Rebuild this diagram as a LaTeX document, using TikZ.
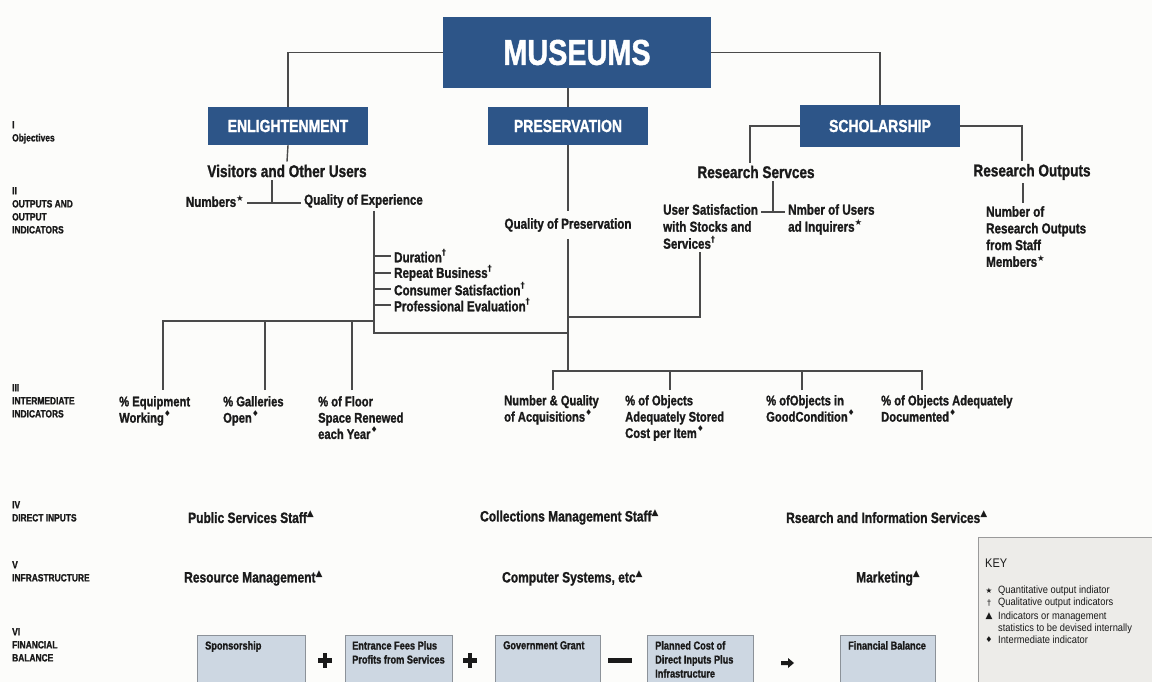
\documentclass[tikz,border=0pt]{standalone}
\usepackage{fontspec}
\setmainfont{Liberation Sans}
\newfontfamily\cb{Liberation Sans}[UprightFont=* Bold, BoldFont=* Bold, FakeStretch=0.8, FakeBold=1.2]
\newfontfamily\kf{Liberation Sans}[FakeStretch=0.88]
\newfontfamily\symf{DejaVu Sans}
\usetikzlibrary{arrows.meta}
\definecolor{boxblue}{HTML}{2D5588}
\definecolor{linegray}{HTML}{4A4A4A}
\definecolor{inkdark}{HTML}{1A1A1A}
\definecolor{finfill}{HTML}{CDD7E2}
\definecolor{finedge}{HTML}{8C9299}
\definecolor{keyfill}{HTML}{EDECE9}
\definecolor{keyedge}{HTML}{9A9A9A}
\definecolor{paper}{HTML}{FCFCFA}
% indicator marks
\newcommand\mkq{\raisebox{.40em}{\fontsize{8.5}{8.5}\selectfont\symf ★}}
\newcommand\mkd{\raisebox{.45em}{\fontsize{8.5}{8.5}\selectfont\symf\bfseries †}}
\newcommand\mki{\raisebox{.45em}{\fontsize{8}{8}\selectfont\symf ♦}}
\newcommand\mkm{\raisebox{.42em}{\fontsize{9}{9}\selectfont\symf ▲}}
\begin{document}
\begin{tikzpicture}[x=1pt,y=-1pt,
  conn/.style={draw=linegray, line width=1.4pt},
  objbox/.style={fill=boxblue, text=white, inner sep=0,
    font=\cb\fontsize{17.5}{20}\selectfont,
    minimum width=160pt, minimum height=38pt},
  lab/.style={anchor=north west, align=left, inner sep=0, text=inkdark,
    font=\cb\fontsize{10.5}{13}\selectfont},
  hd/.style={inner sep=3pt, text=inkdark, font=\cb\fontsize{17}{20}\selectfont},
  outtxt/.style={inner sep=3pt, text=inkdark, align=left,
    font=\cb\fontsize{14.5}{17}\selectfont},
  ind/.style={anchor=north west, align=left, inner sep=0, text=inkdark,
    font=\cb\fontsize{14}{16.3}\selectfont},
  rowtxt/.style={anchor=west, inner sep=0, text=inkdark,
    font=\cb\fontsize{15}{18}\selectfont},
  finbox/.style={draw=finedge, fill=finfill, line width=0.8pt},
  fintxt/.style={anchor=north west, align=left, inner sep=0, text=inkdark,
    font=\cb\fontsize{11.5}{14}\selectfont},
  keytxt/.style={anchor=west, inner sep=0, text=inkdark,
    font=\kf\fontsize{10.6}{12.4}\selectfont, align=left},
  keysym/.style={anchor=center, inner sep=0, text=inkdark},
  sign/.style={fill=inkdark}
]
\useasboundingbox (0,0) rectangle (1152,682);
\fill[paper] (0,0) rectangle (1152,682);

% ---- objectives ----
\node[objbox, minimum width=268pt, minimum height=71pt,
  font=\cb\fontsize{36}{40}\selectfont] (museums) at (577,52.5) {MUSEUMS};
\node[objbox] (enl) at (288,126) {ENLIGHTENMENT};
\node[objbox] (pres) at (568,126) {PRESERVATION};
\node[objbox, minimum height=42pt] (sch) at (880,126) {SCHOLARSHIP};

\draw[conn] (museums.west) -| (enl.north);
\draw[conn] (museums.south -| pres.north) -- (pres.north);
\draw[conn] (museums.east) -| (sch.north);

% ---- row labels ----
\node[lab] (l1) at (12,121) {I\\Objectives};
\node[lab] (l2) at (12,187) {II\\OUTPUTS AND\\OUTPUT\\INDICATORS};
\node[lab] (l3) at (12,384) {III\\INTERMEDIATE\\INDICATORS};
\node[lab] (l4) at (12,501) {IV\\DIRECT INPUTS};
\node[lab] (l5) at (12,561) {V\\INFRASTRUCTURE};
\node[lab] (l6) at (12,628) {VI\\FINANCIAL\\BALANCE};

% ---- enlightenment branch ----
\node[hd] (visitors) at (287,171) {Visitors and Other Users};
\node[outtxt, anchor=east] (numbers) at (247,201) {Numbers\mkq};
\node[outtxt, anchor=west] (qoe) at (301,201) {Quality of Experience};
\coordinate (tvis) at (272,203);
\draw[conn] (enl.south) -- (visitors.north);
\draw[conn] (visitors.south -| tvis) -- (tvis);
\draw[conn] (numbers.east |- tvis) -- (qoe.west |- tvis);

\node[outtxt, anchor=west] (dur1) at (391,256) {Duration\mkd};
\node[outtxt, anchor=west] (dur2) at (391,273) {Repeat Business\mkd};
\node[outtxt, anchor=west] (dur3) at (391,289) {Consumer Satisfaction\mkd};
\node[outtxt, anchor=west] (dur4) at (391,305) {Professional Evaluation\mkd};

\coordinate (qbr) at (374,333);
\coordinate (lbar) at (374,321);
\coordinate (rbar) at (568,371);
\draw[conn] (qoe.south -| qbr) -- (qbr) -- (qbr -| rbar);
\foreach \d in {dur1,dur2,dur3,dur4}
  \draw[conn] (\d.west -| qbr) -- (\d.west);

% ---- preservation branch ----
\node[outtxt, inner ysep=7pt] (qpres) at (568,225) {Quality of Preservation};
\draw[conn] (pres.south) -- (qpres.north);
\draw[conn] (qpres.south) -- (rbar);

% ---- scholarship branch ----
\node[hd] (rserv) at (756,172) {Research Servces};
\node[hd] (rout) at (1032,172) {Research Outputs};
\draw[conn] (sch.west) -| ([xshift=-6pt]rserv.north);
\draw[conn] (sch.east) -| ([xshift=-10pt]rout.north);

\node[outtxt, anchor=north west]
  (usat) at (660,201) {User Satisfaction\\with Stocks and\\Services\mkd};
\node[outtxt, anchor=north west] (nmb) at (785,201) {Nmber of Users\\ad Inquirers\mkq};
\node[outtxt, anchor=north west, font=\cb\fontsize{14.5}{16.7}\selectfont]
  (nro) at (983,203) {Number of\\Research Outputs\\from Staff\\Members\mkq};

\coordinate (rt) at (773,212);
\draw[conn] (rserv.south -| rt) -- (rt);
\draw[conn] (usat.east |- rt) -- (nmb.west |- rt);
\draw[conn] ([xshift=-9pt]rout.south) -- ([xshift=-9pt]rout.south |- nro.north);

\coordinate (usj) at (700,317);
\draw[conn] (usat.south -| usj) -- (usj) -- (usj -| rbar);

% ---- intermediate indicators ----
\node[ind] (equip) at (119,396) {\% Equipment\\Working\mki};
\node[ind] (gall) at (223,396) {\% Galleries\\Open\mki};
\node[ind] (floor) at (318,396) {\% of Floor\\Space Renewed\\each Year\mki};
\node[ind] (nq) at (504,395) {Number \& Quality\\of Acquisitions\mki};
\node[ind] (pobj) at (625,395) {\% of Objects\\Adequately Stored\\Cost per Item\mki};
\node[ind] (pgood) at (766,395) {\% ofObjects in\\GoodCondition\mki};
\node[ind] (pdoc) at (881,395) {\% of Objects Adequately\\Documented\mki};

\coordinate (e1) at (163,390);
\coordinate (e2) at (265,390);
\coordinate (e3) at (352,390);
\draw[conn] (lbar) -| (e1);
\draw[conn] (e2) -- (e2 |- lbar);
\draw[conn] (e3) -- (e3 |- lbar);

\coordinate (f1) at (553,390);
\coordinate (f2) at (670,390);
\coordinate (f3) at (802,390);
\coordinate (f4) at (922,390);
\draw[conn] (f1) |- (f4 |- rbar) -- (f4);
\draw[conn] (f2) -- (f2 |- rbar);
\draw[conn] (f3) -- (f3 |- rbar);

% ---- direct inputs and infrastructure ----
\node[rowtxt] (psst) at (188,517) {Public Services Staff\mkm};
\node[rowtxt] (cmst) at (480,517) {Collections Management Staff\mkm};
\node[rowtxt] (rist) at (786,517) {Rsearch and Information Services\mkm};
\node[rowtxt] (resm) at (184,578) {Resource Management\mkm};
\node[rowtxt] (comp) at (502,578) {Computer Systems, etc\mkm};
\node[rowtxt] (mkt) at (856,578) {Marketing\mkm};

% ---- financial balance ----
\foreach \nm/\xa/\xb in {fb1/197/305, fb2/345/452, fb3/495/600, fb4/647/753, fb5/840/935}
  \draw[finbox] (\xa,635) rectangle (\xb,695) coordinate (\nm);
\node[fintxt] (t1) at (205,641) {Sponsorship};
\node[fintxt] (t2) at (352,641) {Entrance Fees Plus\\Profits from Services};
\node[fintxt] (t3) at (503,641) {Government Grant};
\node[fintxt] (t4) at (655,641) {Planned Cost of\\Direct Inputs Plus\\Infrastructure};
\node[fintxt] (t5) at (848,641) {Financial Balance};

% plus, plus, minus, result arrow
\foreach \cx in {325,470} {
  \fill[sign] (\cx-7,658) rectangle (\cx+7,662.5);
  \fill[sign] (\cx-2.25,653) rectangle (\cx+2.25,667.5);
}
\fill[sign] (608,658) rectangle (632,663);
\fill[sign] (781,661) -- (788,661) -- (788,658) -- (794,663) -- (788,668) -- (788,665) -- (781,665) -- cycle;

% ---- key ----
\fill[keyfill] (978,537) rectangle (1160,690);
\draw[draw=keyedge, line width=0.8pt] (978,690) -- (978,537) -- (1160,537);
\node[anchor=west, inner sep=0, text=inkdark, font=\kf\fontsize{12.5}{14}\selectfont] (keyhd) at (985,563) {KEY};
\node[keysym, font=\fontsize{7.5}{7.5}\selectfont\symf] (k1s) at (989,591) {★};
\node[keysym, font=\fontsize{8}{8}\selectfont\symf] (k2s) at (989,603) {†};
\node[keysym, font=\fontsize{9}{9}\selectfont\symf] (k3s) at (989,616) {▲};
\node[keysym, font=\fontsize{8}{8}\selectfont\symf] (k4s) at (989,640) {♦};
\node[keytxt] (k1) at (998,591) {Quantitative output indiator};
\node[keytxt] (k2) at (998,603) {Qualitative output indicators};
\node[keytxt, anchor=north west] (k3) at (998,611.5) {Indicators or management\\statistics to be devised internally};
\node[keytxt] (k4) at (998,640) {Intermediate indicator};
\end{tikzpicture}
\end{document}
